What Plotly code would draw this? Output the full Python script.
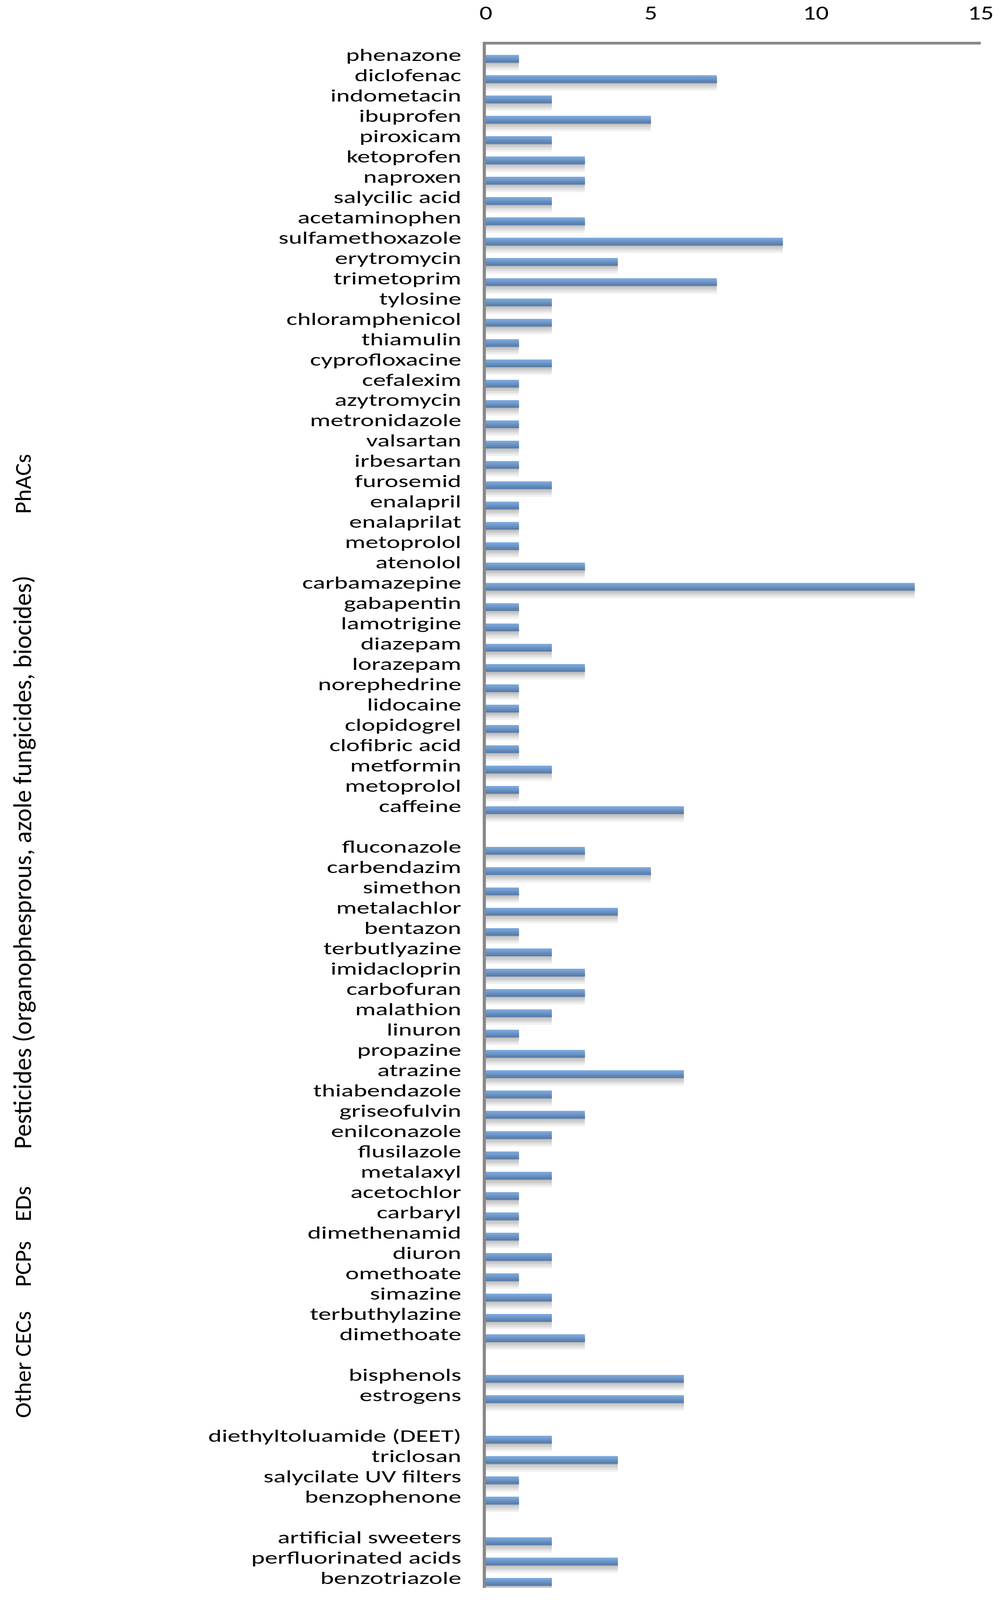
import json
import plotly.graph_objects as go

# ---------------- data ----------------
phacs_names = ["phenazone", "diclofenac", "indometacin", "ibuprofen", "piroxicam", "ketoprofen",
               "naproxen", "salycilic acid", "acetaminophen", "sulfamethoxazole", "erytromycin",
               "trimetoprim", "tylosine", "chloramphenicol", "thiamulin", "cyprofloxacine",
               "cefalexim", "azytromycin", "metronidazole", "valsartan", "irbesartan", "furosemid",
               "enalapril", "enalaprilat", "metoprolol", "atenolol", "carbamazepine", "gabapentin",
               "lamotrigine", "diazepam", "lorazepam", "norephedrine", "lidocaine", "clopidogrel",
               "clofibric acid", "metformin", "metoprolol", "caffeine"]
phacs_counts = [1, 7, 2, 5, 2, 3, 3, 2, 3, 9, 4, 7, 2, 2, 1, 2, 1, 1, 1, 1, 1, 2, 1, 1, 1, 3, 13,
                1, 1, 2, 3, 1, 1, 1, 1, 2, 1, 6]

pest_names = ["fluconazole", "carbendazim", "simethon", "metalachlor", "bentazon", "terbutlyazine",
              "imidacloprin", "carbofuran", "malathion", "linuron", "propazine", "atrazine",
              "thiabendazole", "griseofulvin", "enilconazole", "flusilazole", "metalaxyl",
              "acetochlor", "carbaryl", "dimethenamid", "diuron", "omethoate", "simazine",
              "terbuthylazine", "dimethoate"]
pest_counts = [3, 5, 1, 4, 1, 2, 3, 3, 2, 1, 3, 6, 2, 3, 2, 1, 2, 1, 1, 1, 2, 1, 2, 2, 3]

eds_names = ["bisphenols", "estrogens"]
eds_counts = [6, 6]

pcps_names = ["diethyltoluamide (DEET)", "triclosan", "salycilate UV filters", "benzophenone"]
pcps_counts = [2, 4, 1, 1]

other_names = ["artificial sweeters", "perfluorinated acids", "benzotriazole"]
other_counts = [2, 4, 2]

x_ticks = [0, 5, 10, 15]

group_titles = ["PhACs", "Pesticides (organophesprous, azole fungicides, biocides)",
                "EDs", "PCPs", "Other CECs"]

# ---------------- assemble rows (blank row between groups) ----------------
groups = [(phacs_names, phacs_counts), (pest_names, pest_counts), (eds_names, eds_counts),
          (pcps_names, pcps_counts), (other_names, other_counts)]
labels, values = [], []
for gi, (nm, ct) in enumerate(groups):
    if gi > 0:
        labels.append("")
        values.append(None)
    labels.extend(nm)
    values.extend(ct)
n = len(labels)
pos = list(range(n))

# ---------------- figure geometry (reference pixels) ----------------
W, H = 2568, 4742
ML, MR, MT, MB = 1244, 57, 132, 36
PW, PH = W - ML - MR, H - MT - MB

FONT = "Calibri, Carlito, Lato, sans-serif"
YTICK_SIZE, XTICK_SIZE = 52, 60
GROUP_SIZES = [70, 75, 70, 70, 70]

fig = go.Figure()

# soft shadow under each bar
shadow_cols = ["#BDBDBD", "#CDCDCD", "#DFDFDF", "#F0F0F0"]
bar_w = 0.38
bar_off = 0.01
for k, c in enumerate(shadow_cols):
    fig.add_trace(go.Bar(
        y=pos, x=values, orientation="h",
        width=0.1, offset=bar_off + bar_w - 0.02 + 0.1 * k,
        marker=dict(color=c, line=dict(width=0)),
        hoverinfo="skip", showlegend=False))

# gradient bar (light top -> darker bottom)
grad_cols = ["#7BA8DB", "#75A1D3", "#6E98C9", "#678EBE", "#6084B3", "#5A7CA8"]
ns = len(grad_cols)
for k, c in enumerate(grad_cols):
    start = bar_off + bar_w * k / ns
    fig.add_trace(go.Bar(
        y=pos, x=values, orientation="h",
        width=bar_off + bar_w - start, offset=start,
        marker=dict(color=c, line=dict(width=0)),
        hovertemplate="%{x}<extra></extra>", showlegend=False))

fig.update_layout(
    autosize=True,
    margin=dict(l=ML, r=MR, t=MT, b=MB, pad=0),
    plot_bgcolor="white", paper_bgcolor="white",
    barmode="overlay",
    font=dict(family=FONT, size=YTICK_SIZE, color="black"),
    xaxis=dict(side="top", range=[0, 15], tickvals=x_ticks, ticktext=[str(t) for t in x_ticks],
               showgrid=False, zeroline=False, showline=True, linecolor="#888888", linewidth=7,
               ticks="", ticklabelstandoff=36, automargin=False,
               tickfont=dict(family=FONT, size=XTICK_SIZE, color="black"),
               fixedrange=True),
    yaxis=dict(range=[n - 0.5, -0.5], tickmode="array", tickvals=pos, ticktext=labels,
               showgrid=False, zeroline=False, showline=True, linecolor="#888888", linewidth=8,
               ticks="", ticklabelstandoff=46, automargin=False,
               tickfont=dict(family=FONT, size=YTICK_SIZE, color="black"),
               fixedrange=True),
)

# group titles (rotated), placed relative to the plot's left edge in pixels
group_centers_px = [1435, 2556, 3568, 3747, 4044]
gx_px = 58
for title, yc, fs in zip(group_titles, group_centers_px, GROUP_SIZES):
    fig.add_annotation(
        text=title, textangle=-90, showarrow=False,
        xref="paper", yref="paper",
        x=0, xshift=gx_px - ML, y=(H - MB - yc) / PH,
        xanchor="center", yanchor="middle",
        font=dict(family=FONT, size=fs, color="black"))

# Fill the browser viewport; if it is shorter than the reference, scale vertical sizes
# and widen the label glyphs so that the label column keeps the reference's width.
post = """
document.documentElement.style.margin='0';
document.body.style.margin='0';
document.body.style.overflow='hidden';
var gd=document.getElementById('{plot_id}');
var H0=__H0__, MT0=__MT__, MB0=__MB__, FY0=__FY__, FX0=__FX__, GS=__GS__;
var k=Math.min(1, window.innerHeight/H0);
var FY=FY0*k, FX=FX0*k;
var fy=Math.max(1, 66/FY), fx=Math.max(1, 30/(0.46*FX));
var upd={'margin.t':MT0*k,'margin.b':MB0*k,
         'yaxis.tickfont.size':FY,'xaxis.tickfont.size':FX};
for(var i=0;i<GS.length;i++){upd['annotations['+i+'].font.size']=GS[i]*k;}
function stretch(sel, f, atEnd){
  gd.querySelectorAll(sel).forEach(function(el){
    var t=el.getAttribute('transform')||'';
    if(el.__st && t.slice(-el.__st.length)===el.__st){t=t.slice(0, t.length-el.__st.length);}
    var b=el.getBBox();
    var cx=atEnd ? b.x+b.width : b.x+b.width/2;
    var add=' translate('+cx+',0) scale('+f+',1) translate('+(-cx)+',0)';
    el.__st=add;
    el.setAttribute('transform', t+add);
  });
}
function applyStretch(){ stretch('g.ytick text', fy, true); stretch('g.xtick text', fx, false); }
gd.on('plotly_afterplot', applyStretch);
Plotly.Plots.resize(gd).then(function(){return Plotly.relayout(gd, upd);}).then(applyStretch);
"""
post = (post.replace("__H0__", str(H)).replace("__MT__", str(MT)).replace("__MB__", str(MB))
            .replace("__FY__", str(YTICK_SIZE)).replace("__FX__", str(XTICK_SIZE))
            .replace("__GS__", json.dumps(GROUP_SIZES)))

fig.write_html("out.html", include_plotlyjs=True, full_html=True,
               default_width="100%", default_height="100vh",
               config={"responsive": True, "displayModeBar": False},
               post_script=post)
